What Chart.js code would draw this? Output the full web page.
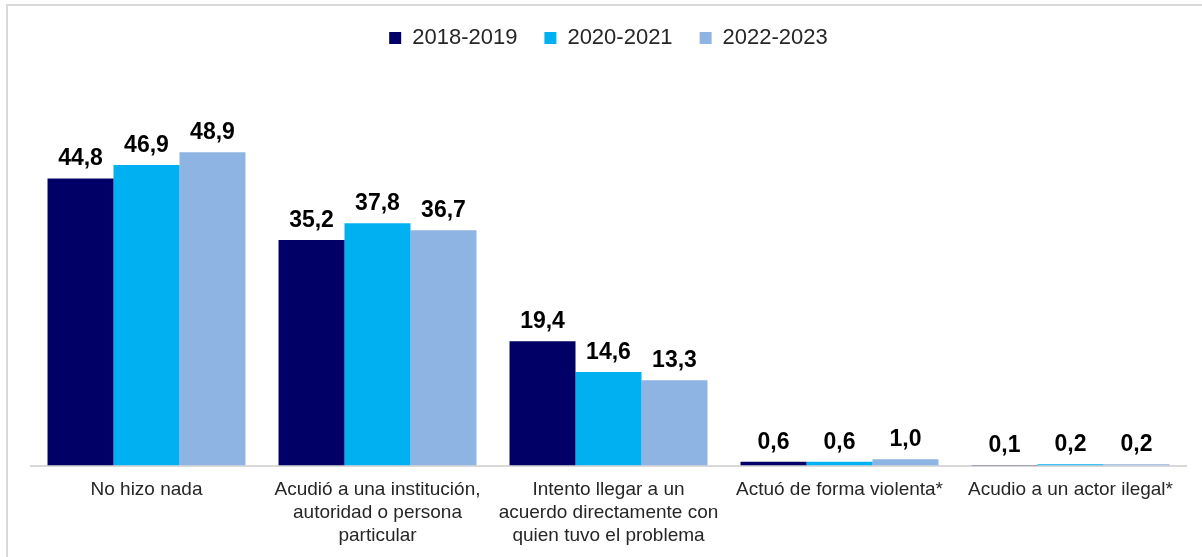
<!DOCTYPE html>
<html>
<head>
<meta charset="utf-8">
<script src="https://cdn.jsdelivr.net/npm/chart.js@4"></script>
<style>
  html, body { margin: 0; padding: 0; background: #fff; }
  #wrap { position: relative; width: 1202px; height: 557px; overflow: hidden; }
  #frame { position: absolute; left: 6px; top: 4px; right: -10px; bottom: -10px; border-top: 2px solid #d9d9d9; border-left: 2px solid #d9d9d9; }
  #chart { position: absolute; left: 0; top: 0; }
</style>
</head>
<body>
<div id="wrap">
  <div id="frame"></div>
  <canvas id="chart" width="1202" height="557"></canvas>
</div>
<script>
// Categorías y valores (%)
const categorias = [
    'No hizo nada',
    ['Acudió a una institución,', 'autoridad o persona', 'particular'],
    ['Intento llegar a un', 'acuerdo directamente con', 'quien tuvo el problema'],
    'Actuó de forma violenta*',
    'Acudio a un actor ilegal*'
];
const serie2018 = [44.8, 35.2, 19.4, 0.6, 0.1];
const serie2020 = [46.9, 37.8, 14.6, 0.6, 0.2];
const serie2022 = [48.9, 36.7, 13.3, 1.0, 0.2];

const fuente = '"Liberation Sans", Arial, sans-serif';

// Plugin simple para las etiquetas de valor encima de cada barra
const etiquetas = {
    id: 'etiquetas',
    afterDatasetsDraw(chart) {
        const ctx = chart.ctx;
        ctx.save();
        ctx.font = 'bold 23px ' + fuente;
        ctx.fillStyle = '#000000';
        ctx.textAlign = 'center';
        ctx.textBaseline = 'bottom';
        chart.data.datasets.forEach((ds, i) => {
            chart.getDatasetMeta(i).data.forEach((bar, j) => {
                const txt = ds.data[j].toFixed(1).replace('.', ',');
                ctx.fillText(txt, bar.x, bar.y - 8);
            });
        });
        ctx.restore();
    }
};

// Espacio extra entre la leyenda y el área del gráfico
const espacioLeyenda = {
    id: 'espacioLeyenda',
    beforeInit(chart) {
        const fitOriginal = chart.legend.fit;
        chart.legend.fit = function () {
            fitOriginal.call(this);
            this.height += 22;
        };
    }
};

const ctx = document.getElementById('chart').getContext('2d');
new Chart(ctx, {
    type: 'bar',
    data: {
        labels: categorias,
        datasets: [
            { label: '2018-2019', data: serie2018, backgroundColor: '#000066' },
            { label: '2020-2021', data: serie2020, backgroundColor: '#00b0f0' },
            { label: '2022-2023', data: serie2022, backgroundColor: '#8eb4e3' }
        ]
    },
    options: {
        responsive: false,
        animation: false,
        layout: { padding: { left: 31, right: 16, top: 0, bottom: 5 } },
        datasets: { bar: { categoryPercentage: 0.857, barPercentage: 1.0 } },
        plugins: {
            legend: {
                position: 'top',
                labels: {
                    boxWidth: 12,
                    boxHeight: 12,
                    padding: 27,
                    color: '#262626',
                    font: { family: fuente, size: 22 }
                }
            },
            tooltip: { enabled: false }
        },
        scales: {
            x: {
                grid: { display: false },
                border: { display: true, color: '#d9d9d9', width: 2 },
                ticks: {
                    color: '#262626',
                    padding: 5,
                    maxRotation: 0,
                    autoSkip: false,
                    font: { family: fuente, size: 19, lineHeight: 1.2 }
                }
            },
            y: {
                display: false,
                min: 0,
                max: 60
            }
        }
    },
    plugins: [espacioLeyenda, etiquetas]
});
</script>
</body>
</html>
